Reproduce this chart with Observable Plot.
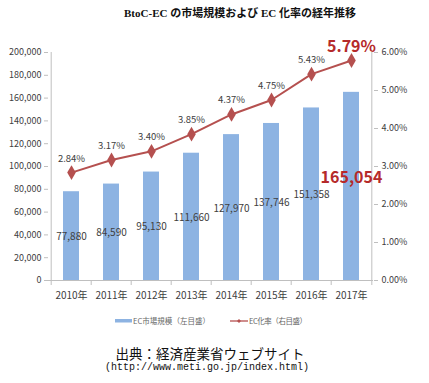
<!DOCTYPE html>
<html><head><meta charset="utf-8">
<script src="https://cdn.jsdelivr.net/npm/d3@7"></script>
<script src="https://cdn.jsdelivr.net/npm/@observablehq/plot@0.6"></script>
<style>
body{margin:0;background:#fff;}
#wrap{position:relative;width:429px;height:383px;overflow:hidden;font-family:"Noto Sans CJK JP",sans-serif;}
#title{position:absolute;top:4px;left:0;width:480px;text-align:center;font:bold 11px "Liberation Serif","Noto Sans CJK JP",serif;color:#111;}
#chart{position:absolute;top:29px;left:0;}
#legend{position:absolute;top:314px;left:0;width:429px;}
#cap1{position:absolute;top:343px;left:0;width:420px;text-align:center;font-size:13.5px;color:#111;}
#cap2{position:absolute;top:362px;left:0;width:414px;text-align:center;font:10px "Liberation Mono","DejaVu Sans Mono",monospace;color:#111;}
</style></head>
<body><div id="wrap">
<div id="title">BtoC-EC の市場規模および EC 化率の経年推移</div>
<div id="chart"></div>
<div id="legend"></div>
<div id="cap1">出典：経済産業省ウェブサイト</div>
<div id="cap2">(http://www.meti.go.jp/index.html)</div>
</div>
<script>
const years = ["2010年","2011年","2012年","2013年","2014年","2015年","2016年","2017年"];
const marketSize = [77880, 84590, 95130, 111660, 127970, 137746, 151358, 165054];
const ecRate = [2.84, 3.17, 3.40, 3.85, 4.37, 4.75, 5.43, 5.79];
const leftTicks = [0,20000,40000,60000,80000,100000,120000,140000,160000,180000,200000];
const rightTicks = [0,1,2,3,4,5,6];
const legendLabels = ["EC市場規模（左目盛）","EC化率（右目盛）"];

const yMax = 200000, rMax = 6;
const toY = r => r / rMax * yMax;
const data = years.map((y,i)=>({year:y, size:marketSize[i], rate:ecRate[i], ry:toY(ecRate[i]), last:i===years.length-1}));

const W = 429, H = 276, mL = 48, mR = 56, mT = 23, mB = 25;
const step = (W - mL - mR) / years.length;
const blue = "#8db3e2", red = "#b5504f", dark = "#404040", axisC = "#bfbfbf";
const fmt = d3.format(",");

const chart = Plot.plot({
  width: W, height: H, marginLeft: mL, marginRight: mR, marginTop: mT, marginBottom: mB,
  style: {fontFamily: '"Noto Sans CJK JP", sans-serif', color: dark, background: "transparent"},
  x: {domain: years, paddingInner: 0.6, paddingOuter: 0.3, label: null},
  y: {domain: [0, yMax], label: null},
  marks: [
    Plot.barY(data, {x: "year", y: "size", fill: blue}),
    Plot.ruleY([0], {stroke: axisC}),
    Plot.ruleX([years[0]], {x: d=>d, y1: 0, y2: yMax, dx: -step/2, stroke: axisC}),
    Plot.ruleX([years[years.length-1]], {x: d=>d, y1: 0, y2: yMax, dx: step/2, stroke: axisC}),
    Plot.ruleX(years, {x: d=>d, y1: 0, y2: 0, dx: -step/2, insetBottom: -5, stroke: axisC}),
    Plot.ruleX([years[years.length-1]], {x: d=>d, y1: 0, y2: 0, dx: step/2, insetBottom: -5, stroke: axisC}),
    Plot.axisY({ticks: leftTicks, tickSize: 4, tickPadding: 3, tickFormat: fmt, fontSize: 9, stroke: axisC, fill: dark}),
    Plot.axisY({anchor: "right", ticks: rightTicks.map(toY), tickSize: 4, tickPadding: 4, tickFormat: d => (d / yMax * rMax).toFixed(2) + "%", fontSize: 9, stroke: axisC, fill: dark}),
    Plot.axisX({tickSize: 0, tickPadding: 11, fontSize: 10, fill: dark}),
    Plot.line(data, {x: "year", y: "ry", stroke: red, strokeWidth: 2}),
    Plot.dot(data, {x: "year", y: "ry", symbol: "diamond", r: 4.5, fill: red}),
    Plot.text(data.filter(d=>!d.last), {x: "year", y: "ry", text: d => d.rate.toFixed(2) + "%", dy: -14, fontSize: 9.5, fill: dark}),
    Plot.text(data.filter(d=>d.last), {x: "year", y: "ry", text: d => d.rate.toFixed(2) + "%", dy: -14, fontSize: 16, fontWeight: "bold", fill: "#b52a2a"}),
    Plot.text(data.filter(d=>!d.last), {x: "year", y: d => d.size/2, text: d => fmt(d.size), dy: 1, fontSize: 10, fill: dark}),
    Plot.text(data.filter(d=>d.last), {x: "year", y: d => d.size/2, text: d => fmt(d.size), dy: -9, fontSize: 16, fontWeight: "bold", fill: "#b52a2a"})
  ]
});
document.getElementById("chart").appendChild(chart);

const lg = document.getElementById("legend");
lg.innerHTML = `<svg width="429" height="14" style="display:block">
  <rect x="115" y="5" width="17" height="3.5" fill="${blue}"/>
  <text x="133" y="10" font-size="7.5" fill="#666" textLength="77">${legendLabels[0]}</text>
  <line x1="230" y1="7" x2="248" y2="7" stroke="${red}" stroke-width="1.3"/>
  <path d="M239,5 L241,7 L239,9 L237,7 Z" fill="${red}"/>
  <text x="249" y="10" font-size="7.5" fill="#666" textLength="58">${legendLabels[1]}</text>
</svg>`;
</script>
</body></html>
